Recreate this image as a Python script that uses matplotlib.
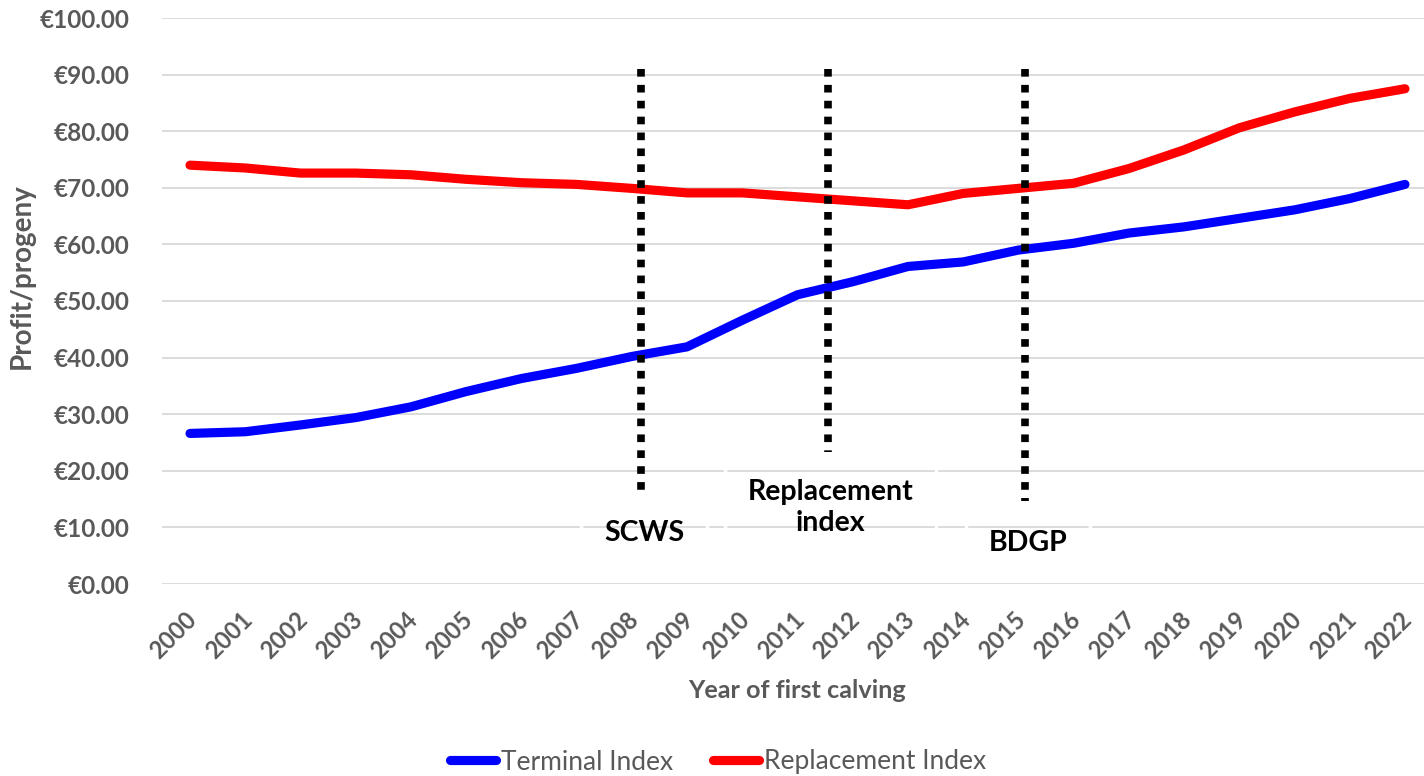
import matplotlib
matplotlib.use("Agg")
import matplotlib.pyplot as plt
import matplotlib.transforms as mtransforms
import numpy as np

plt.rcParams['font.family'] = ['Lato', 'DejaVu Sans']

years = [str(y) for y in range(2000, 2023)]
terminal_index = [26.6, 26.9, 28.1, 29.4, 31.3, 34.0, 36.3, 38.1, 40.2, 41.9,
                  46.6, 51.1, 53.4, 56.1, 56.9, 59.0, 60.2, 62.0, 63.1, 64.6,
                  66.1, 68.1, 70.6]
replacement_index = [74.0, 73.5, 72.6, 72.6, 72.3, 71.5, 70.9, 70.6, 69.9, 69.1,
                     69.1, 68.4, 67.7, 67.0, 69.0, 69.9, 70.8, 73.4, 76.7, 80.6,
                     83.4, 85.8, 87.5]
y_ticks = [0, 10, 20, 30, 40, 50, 60, 70, 80, 90, 100]

# programme milestones: (x position in category units, top, bottom, label, label y)
milestones = [
    (8.17, 91.0, 15.2, "SCWS", 9.0),
    (11.55, 91.0, 23.3, "Replacement\nindex", 13.5),
    (15.12, 91.0, 14.7, "BDGP", 7.3),
]

GREY = "#595959"
fig = plt.figure(figsize=(14.24, 7.76), dpi=100)
ax = fig.add_axes([162.4 / 1424, 192 / 776, 1270.2 / 1424, 566 / 776])

x = np.arange(len(years))
ax.plot(x, terminal_index, color="#0000ff", lw=6.6, solid_capstyle="round",
        solid_joinstyle="round", label="Terminal Index", zorder=3)
ax.plot(x, replacement_index, color="#ff0000", lw=6.6, solid_capstyle="round",
        solid_joinstyle="round", label="Replacement Index", zorder=3)

for xm, top, bot, label, ly in milestones:
    ax.plot([xm, xm], [top, bot], color="black", lw=5.5,
            linestyle=(0, (1.0, 1.08)), dash_capstyle="butt", zorder=4)
    ax.text(xm + 0.05, ly, label, ha="center", va="center", fontsize=20.5,
            fontweight="bold", color="black", linespacing=1.22, zorder=5,
            bbox=dict(boxstyle="square,pad=0.8", facecolor="none",
                      edgecolor="white", lw=2.5))

ax.set_xlim(-0.5, len(years) - 0.5)
ax.set_ylim(0, 100)
ax.set_yticks(y_ticks)
ax.set_yticklabels([f"€{v:.2f}" for v in y_ticks])
ax.set_xticks(x)
ax.set_xticklabels(years, rotation=45, ha="right", va="top",
                   rotation_mode="anchor")

ax.grid(axis="y", color="#d9d9d9", lw=1.3, zorder=0)
ax.set_axisbelow(True)
for s in ax.spines.values():
    s.set_visible(False)
ax.tick_params(axis="both", length=0, colors=GREY)
ax.tick_params(axis="x", pad=17, labelsize=17)
ax.tick_params(axis="y", pad=24, labelsize=17.5)
shift = mtransforms.ScaledTranslation(-0.05, 0, fig.dpi_scale_trans)
for lab in ax.get_xticklabels():
    lab.set_fontweight("bold")
    lab.set_transform(lab.get_transform() + shift)
for lab in ax.get_yticklabels():
    lab.set_fontweight("bold")

ax.set_xlabel("Year of first calving", fontsize=18.2, fontweight="bold",
              color=GREY)
ax.xaxis.set_label_coords(797 / 1424, 1 - 690 / 776, transform=fig.transFigure)
ax.xaxis.label.set_va("center")
ax.set_ylabel("Profit/progeny", fontsize=20, fontweight="bold", color=GREY)
ax.yaxis.set_label_coords(22 / 1424, 1 - 276 / 776, transform=fig.transFigure)
ax.yaxis.label.set_va("center")

leg = fig.legend(loc="center", bbox_to_anchor=(718 / 1424, 1 - 762 / 776),
                 ncol=2, frameon=False, fontsize=19, handlelength=1.75,
                 handletextpad=0.2, columnspacing=1.5, labelcolor=GREY)
for line in leg.get_lines():
    line.set_linewidth(6.6)
    line.set_solid_capstyle("round")

fig.savefig("out.png", dpi=100)
